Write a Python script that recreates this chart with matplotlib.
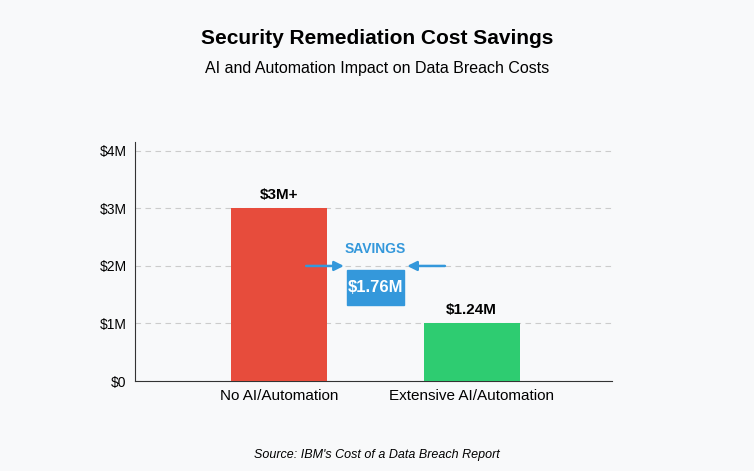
import matplotlib.pyplot as plt
from matplotlib.patches import Rectangle

categories = ["No AI/Automation", "Extensive AI/Automation"]
values = [3.0, 1.0]
labels = ["$3M+", "$1.24M"]
colors = ["#e74c3c", "#2ecc71"]
ticks = [0, 1, 2, 3, 4]
tick_labels = ["$0", "$1M", "$2M", "$3M", "$4M"]
savings_label = "$1.76M"

bg = "#f8f9fa"
fig = plt.figure(figsize=(7.54, 4.71), dpi=100, facecolor=bg)
ax = fig.add_axes([0.179, 0.191, 0.633, 0.507], facecolor=bg)
x = [0, 1]
ax.bar(x, values, width=0.5, color=colors, zorder=3)
ax.set_xlim(-0.75, 1.73)
ax.set_ylim(0, 4.15)
ax.set_yticks(ticks)
ax.set_yticklabels(tick_labels, fontsize=10, family="Liberation Sans")
ax.set_xticks(x)
ax.set_xticklabels(categories, fontsize=11, family="Liberation Sans")
ax.tick_params(length=0, pad=6)
ax.grid(axis="y", color="#cccccc", linestyle=(0, (5, 4)), linewidth=0.8, zorder=0)
for s in ["top", "right"]:
    ax.spines[s].set_visible(False)
for s in ["left", "bottom"]:
    ax.spines[s].set_color("#333333")
for xi, v, l in zip(x, values, labels):
    ax.text(xi, v + 0.12, l, ha="center", va="bottom", fontsize=11, fontweight="bold", family="Liberation Sans")

blue = "#3498db"
ax.annotate("", xy=(0.35, 2.0), xytext=(0.125, 2.0),
            arrowprops=dict(arrowstyle="-|>", color=blue, lw=1.8, mutation_scale=14), zorder=4)
ax.annotate("", xy=(0.65, 2.0), xytext=(0.875, 2.0),
            arrowprops=dict(arrowstyle="-|>", color=blue, lw=1.8, mutation_scale=14), zorder=4)
ax.add_patch(Rectangle((0.35, 1.32), 0.30, 0.61, color=blue, zorder=5))
ax.text(0.5, 1.625, savings_label, ha="center", va="center", color="white", fontsize=12,
        fontweight="bold", family="Liberation Sans", zorder=6)
ax.text(0.5, 2.18, "SAVINGS", ha="center", va="bottom", color=blue, fontsize=10,
        fontweight="bold", family="Liberation Sans")

fig.text(0.5, 0.918, "Security Remediation Cost Savings", ha="center", va="center",
         fontsize=15, fontweight="bold", family="Liberation Sans")
fig.text(0.5, 0.855, "AI and Automation Impact on Data Breach Costs", ha="center", va="center",
         fontsize=11.5, family="Liberation Sans")
fig.text(0.5, 0.035, "Source: IBM's Cost of a Data Breach Report", ha="center", va="center",
         fontsize=9, style="italic", family="Liberation Sans")
fig.savefig("out.png", dpi=100, facecolor=bg)
